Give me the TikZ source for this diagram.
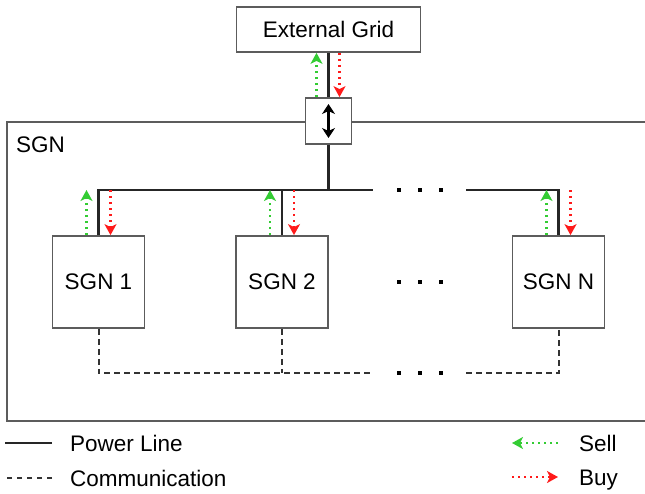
\documentclass[tikz,border=0pt]{standalone}
\usepackage{fontspec}
\setmainfont{Liberation Sans}
\usetikzlibrary{arrows.meta, calc}
\definecolor{sgngreen}{HTML}{33CC33}
\definecolor{sgnred}{HTML}{FF1A1A}
\definecolor{boxgray}{HTML}{5C5C5C}

\begin{document}
\begin{tikzpicture}[
      x=1pt, y=-1pt,
      every node/.style={font=\fontsize{22.5}{27}\selectfont},
      frame/.style={draw=boxgray, line width=1.6pt},
      box/.style={draw=boxgray, line width=1.8pt, fill=white, inner sep=0pt},
      legendtext/.style={anchor=base west, inner sep=0pt},
      power/.style={line width=2.2pt, draw=black!85},
      comm/.style={line width=2pt, draw=black!80, dash pattern=on 6pt off 4pt},
      sell/.style={-{Stealth[length=11pt, width=12pt, inset=3pt]}, sgngreen, line width=2.2pt, dash pattern=on 2pt off 4pt},
      buy/.style={-{Stealth[length=11pt, width=12pt, inset=3pt]}, sgnred, line width=2.2pt, dash pattern=on 2pt off 4pt},
    ]
    \useasboundingbox (0,0) rectangle (645,493);

    % SGN area
    \node[frame, anchor=north west, minimum width=645pt, minimum height=299pt] (area) at (6,121) {};
    \node[legendtext] (arealabel) at (16,152) {SGN};

    \node[box, minimum width=184pt, minimum height=45pt] (grid) at (328.5,29.5) {External Grid};
    \node[box, minimum width=46pt, minimum height=46pt] (switch) at (328.5,121) {};
    \draw[{Stealth[length=10pt, width=13pt, inset=3pt]}-{Stealth[length=10pt, width=13pt, inset=3pt]}, line width=2.2pt]
      ([yshift=17pt]switch.center) -- ([yshift=-17pt]switch.center);

    \node[box, minimum width=92pt, minimum height=92pt] (sgn1) at (98.5,282) {SGN 1};
    \node[box, minimum width=92pt, minimum height=92pt] (sgn2) at (282,282) {SGN 2};
    \node[box, minimum width=92pt, minimum height=92pt] (sgnN) at (558.5,282) {SGN N};

    \coordinate (busL) at (373,190);
    \coordinate (busR) at (466,190);
    \coordinate (commL) at (373,373);
    \coordinate (commR) at (466,373);

    % power lines
    \draw[power] (grid.south) -- (switch.north);
    \draw[power] (switch.south) -- (switch.south |- busL);
    \draw[power] (sgn1.north) |- (busL);
    \draw[power] (sgn2.north) -- (sgn2.north |- busL);
    \draw[power] (busR) -| (sgnN.north);

    % communication
    \draw[comm] (sgn1.south) |- (commL);
    \draw[comm] (sgn2.south) -- (sgn2.south |- commL);
    \draw[comm] (commR) -| (sgnN.south);

    % more nodes
    \foreach \y in {190, 282, 373}
      \foreach \x in {399, 420, 441}
        \fill (\x,\y) +(-1.8,-1.8) rectangle +(1.8,1.8);

    % sell / buy
    \draw[sell] ([xshift=-12pt]switch.north) -- ([xshift=-12pt]grid.south);
    \draw[buy] ([xshift=11pt]grid.south) -- ([xshift=11pt]switch.north);
    \foreach \n in {sgn1, sgn2, sgnN} {
      \draw[sell] ([xshift=-12pt]\n.north) -- ([xshift=-12pt]\n.north |- busL);
      \draw[buy] ([xshift=12pt]\n.north |- busL) -- ([xshift=12pt]\n.north);
    }

    % Legend
    \node[legendtext] (lpower) at (70,451) {Power Line};
    \node[legendtext] (lcomm) at (70,486) {Communication};
    \node[legendtext] (lsell) at (579,451) {Sell};
    \node[legendtext] (lbuy) at (579,485) {Buy};
    \draw[power] ([xshift=-18pt, yshift=8pt]lpower.base west) -- ++(-47,0);
    \draw[comm, dash pattern=on 5pt off 5pt] ([xshift=-18pt, yshift=8pt]lcomm.base west) -- ++(-45,0);
    \draw[sell] ([xshift=-21pt, yshift=8pt]lsell.base west) -- ++(-46,0);
    \draw[buy] ([xshift=-67pt, yshift=8pt]lbuy.base west) -- ++(46,0);
  \end{tikzpicture}
\end{document}
